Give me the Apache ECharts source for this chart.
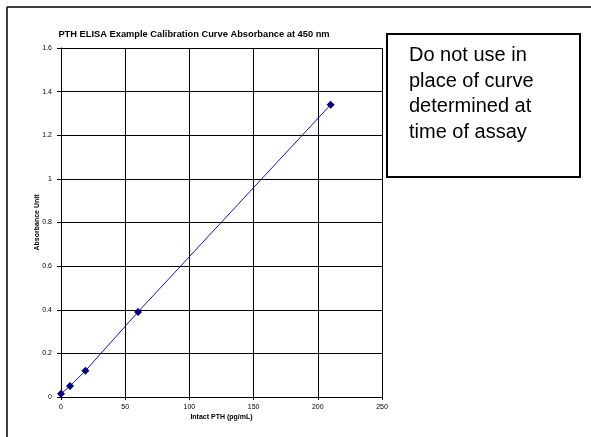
<!DOCTYPE html>
<html>
<head>
<meta charset="utf-8">
<script src="https://cdn.jsdelivr.net/npm/echarts@6/dist/echarts.min.js"></script>
<style>html,body{margin:0;padding:0;background:#fff}#c{width:591px;height:437px}</style>
</head>
<body>
<div id="c"></div>
<script>
const concentrations = [0, 7, 19, 60, 210];
const absorbances = [0.015, 0.05, 0.12, 0.39, 1.34];
const titleText = 'PTH ELISA Example Calibration Curve Absorbance at 450 nm';
const xAxisName = 'Intact PTH (pg/mL)';
const yAxisName = 'Absorbance Unit';
const noteLines = ['Do not use in', 'place of curve', 'determined at', 'time of assay'];

const font = 'Liberation Sans, Arial, sans-serif';
const chart = echarts.init(document.getElementById('c'), null, {renderer: 'canvas'});
chart.setOption({
  animation: false,
  backgroundColor: '#fff',
  title: {
    text: titleText, left: 189, top: 25, textAlign: 'center',
    textStyle: {fontFamily: font, fontSize: 9.3, fontWeight: 'bold', color: '#000'}
  },
  grid: {left: 61, right: 209, top: 48, bottom: 40},
  xAxis: {
    type: 'value', min: 0, max: 250, interval: 50,
    name: xAxisName, nameLocation: 'middle', nameGap: 17, nameMoveOverlap: false,
    nameTextStyle: {fontFamily: font, fontSize: 7, fontWeight: 'bold', color: '#000'},
    axisLine: {lineStyle: {color: '#000', width: 1}},
    axisTick: {show: true, length: 3, lineStyle: {color: '#000'}},
    axisLabel: {fontFamily: font, fontSize: 7, color: '#000', margin: 7},
    splitLine: {show: true, lineStyle: {color: '#000', width: 1}}
  },
  yAxis: {
    type: 'value', min: 0, max: 1.6, interval: 0.2,
    name: yAxisName, nameLocation: 'middle', nameGap: 20, nameRotate: 90, nameMoveOverlap: false,
    nameTextStyle: {fontFamily: font, fontSize: 7, fontWeight: 'bold', color: '#000'},
    axisLine: {show: true, lineStyle: {color: '#000', width: 1}},
    axisTick: {show: true, length: 4, lineStyle: {color: '#000'}},
    axisLabel: {fontFamily: font, fontSize: 7, color: '#000', margin: 9,
      formatter: v => String(Math.round(v * 10) / 10)},
    splitLine: {show: true, lineStyle: {color: '#000', width: 1}}
  },
  series: [{
    type: 'line',
    data: concentrations.map((x, i) => [x, absorbances[i]]),
    symbol: 'diamond', symbolSize: 8,
    itemStyle: {color: '#000080'},
    lineStyle: {color: '#1a1aa0', width: 1},
    clip: false
  }],
  graphic: [
    {type: 'line', shape: {x1: 7, y1: 7, x2: 591, y2: 7}, style: {stroke: '#000', lineWidth: 1.5}},
    {type: 'line', shape: {x1: 7, y1: 7, x2: 7, y2: 437}, style: {stroke: '#000', lineWidth: 1.5}},
    {type: 'rect', shape: {x: 387, y: 34, width: 193, height: 143},
     style: {fill: '#fff', stroke: '#000', lineWidth: 2}},
    {type: 'text', left: 409, top: 43,
     style: {text: noteLines.join('\n'), fontFamily: font, fontSize: 20, lineHeight: 25.5, fill: '#000'}}
  ]
});
</script>
</body>
</html>
